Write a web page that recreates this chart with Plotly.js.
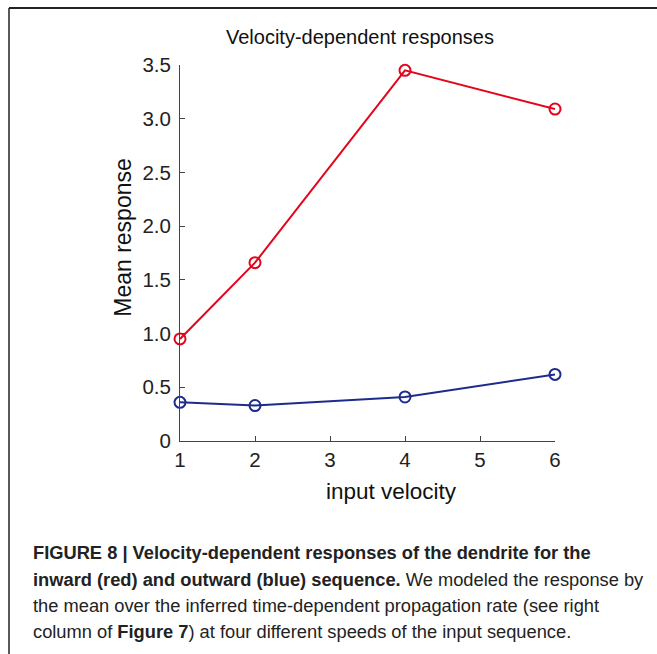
<!DOCTYPE html>
<html>
<head>
<meta charset="utf-8">
<script src="https://cdn.plot.ly/plotly-3.0.1.min.js"></script>
<style>html,body{margin:0;padding:0;background:#fff;}#chart{width:657px;height:654px;}</style>
</head>
<body>
<div id="chart"></div>
<script>
// Data
const velocities = [1, 2, 4, 6];
const inwardRed = [0.95, 1.66, 3.45, 3.09];
const outwardBlue = [0.36, 0.33, 0.41, 0.62];
const xTicks = [1, 2, 3, 4, 5, 6];
const yTicks = [0, 0.5, 1.0, 1.5, 2.0, 2.5, 3.0, 3.5];
const yTickLabels = ['0', '0.5', '1.0', '1.5', '2.0', '2.5', '3.0', '3.5'];
const chartTitle = 'Velocity-dependent responses';
const xTitle = 'input velocity';
const yTitle = 'Mean response';
const captionLines = [
  '<b>FIGURE 8 | Velocity-dependent responses of the dendrite for the</b>',
  '<b>inward (red) and outward (blue) sequence.</b> We modeled the response by',
  'the mean over the inferred time-dependent propagation rate (see right',
  'column of <b>Figure 7</b>) at four different speeds of the input sequence.'
];

const W = 657, H = 654;
const L = 180, R = 555, T = 65, B = 441.5;
const px = x => (x - L) / (R - L);
const py = y => (B - y) / (B - T);

const font = 'Liberation Sans, Arial, sans-serif';
const capFont = '"Liberation Sans Narrow", "Arial Narrow", "Liberation Sans", sans-serif';

const traces = [
  {x: velocities, y: inwardRed, mode: 'lines+markers', type: 'scatter',
   line: {color: '#e3051b', width: 2},
   marker: {symbol: 'circle-open', size: 11, color: '#e3051b', line: {width: 2, color: '#e3051b'}},
   cliponaxis: false, showlegend: false},
  {x: velocities, y: outwardBlue, mode: 'lines+markers', type: 'scatter',
   line: {color: '#1d2b8c', width: 2},
   marker: {symbol: 'circle-open', size: 11, color: '#1d2b8c', line: {width: 2, color: '#1d2b8c'}},
   cliponaxis: false, showlegend: false}
];

const annotations = [
  {text: chartTitle, xref: 'paper', yref: 'paper', x: px(360), y: py(37), xanchor: 'center', yanchor: 'middle',
   showarrow: false, font: {family: font, size: 20, color: '#111'}},
  {text: xTitle, xref: 'paper', yref: 'paper', x: px(391), y: py(492), xanchor: 'center', yanchor: 'middle',
   showarrow: false, font: {family: font, size: 22.5, color: '#111'}},
  {text: yTitle, xref: 'paper', yref: 'paper', x: px(123), y: py(238), xanchor: 'center', yanchor: 'middle',
   textangle: -90, showarrow: false, font: {family: font, size: 23, color: '#111'}}
];
const capY = [553, 580, 606, 632];
captionLines.forEach((t, i) => {
  annotations.push({text: t, xref: 'paper', yref: 'paper', x: px(31), y: py(capY[i]),
    xanchor: 'left', yanchor: 'middle', align: 'left', showarrow: false,
    font: {family: capFont, size: 18.3, color: '#222'}});
});

const layout = {
  width: W, height: H,
  margin: {l: L, r: W - R, t: T, b: H - B, pad: 0},
  paper_bgcolor: '#fff', plot_bgcolor: '#fff',
  xaxis: {range: [1, 6], tickvals: xTicks, ticktext: xTicks.map(String),
    showgrid: false, zeroline: false, showline: true, linecolor: '#444', linewidth: 1,
    ticks: 'inside', ticklen: 5, tickcolor: '#444', mirror: false,
    tickfont: {family: font, size: 20.5, color: '#222'}},
  yaxis: {range: [0, 3.5], tickvals: yTicks, ticktext: yTickLabels,
    showgrid: false, zeroline: false, showline: true, linecolor: '#444', linewidth: 1,
    ticks: 'inside', ticklen: 5, tickcolor: '#444', ticklabelstandoff: 4,
    tickfont: {family: font, size: 20.5, color: '#222'}},
  annotations: annotations,
  shapes: [
    {type: 'line', xref: 'paper', yref: 'paper', x0: px(9), y0: py(H + 2), x1: px(9), y1: py(8), line: {color: '#222', width: 1.5}},
    {type: 'line', xref: 'paper', yref: 'paper', x0: px(9), y0: py(8), x1: px(W + 2), y1: py(8), line: {color: '#222', width: 2}}
  ]
};

Plotly.newPlot('chart', traces, layout, {displayModeBar: false, staticPlot: true});
</script>
</body>
</html>
